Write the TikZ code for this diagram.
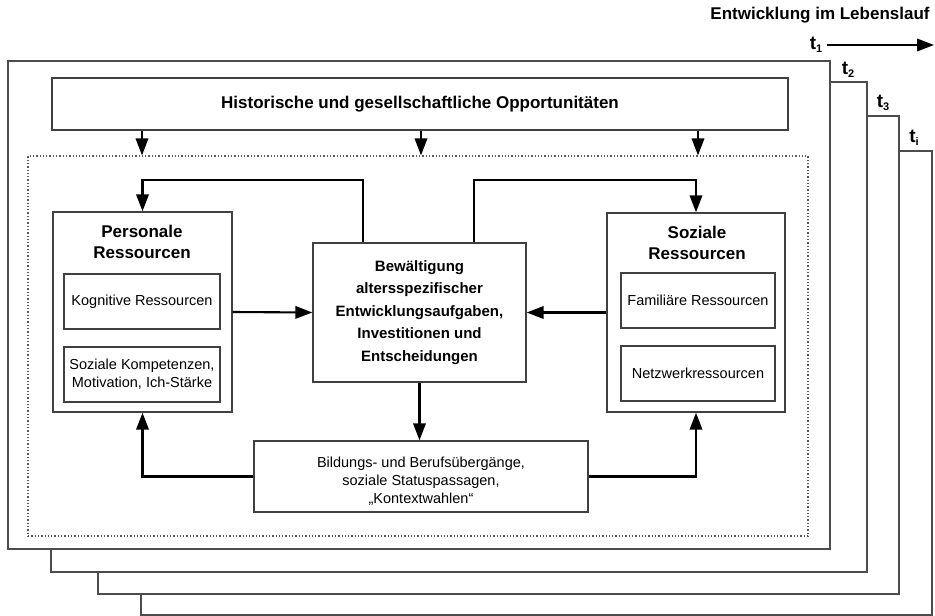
\documentclass[tikz,border=0pt]{standalone}
\usepackage{fontspec}
\setmainfont{Liberation Sans}
\usetikzlibrary{arrows.meta,calc}
\begin{document}
\begin{tikzpicture}[x=1pt,y=-1pt,
  frame/.style={draw=black!70,line width=1.4pt,fill=white},
  box/.style={draw=black!75,line width=1.4pt,fill=white,inner sep=0pt,align=center},
  inbox/.style={draw=black!75,line width=1.3pt,inner sep=0pt,align=center,font=\fontsize{14.5}{18}\selectfont},
  arr/.style={draw=black,line width=2.1pt,-{Triangle[length=17pt,width=12.5pt]}},
  tlab/.style={font=\fontsize{19}{19}\selectfont\bfseries,inner sep=0pt},
  title/.style={font=\fontsize{17}{20.5}\selectfont\bfseries,align=center,inner sep=0pt}
]
\useasboundingbox (0,0) rectangle (935,616);
% stacked frames (back to front)
\node[frame,minimum width=791pt,minimum height=464pt,inner sep=0pt] (f4) at (536.5,383) {};
\node[frame,minimum width=801pt,minimum height=478pt,inner sep=0pt] (f3) at (498.5,355) {};
\node[frame,minimum width=816pt,minimum height=490pt,inner sep=0pt] (f2) at (459,327) {};
\node[frame,minimum width=822pt,minimum height=488pt,inner sep=0pt] (f1) at (419,305) {};
% header
\node[font=\fontsize{17}{17}\selectfont\bfseries,inner sep=0pt] (head) at (820,15) {Entwicklung im Lebenslauf};
\node[tlab] (t1) at (816,45) {t\raisebox{-0.25ex}{\fontsize{11}{11}\selectfont 1}};
\node[tlab] (t2) at (848,70) {t\raisebox{-0.25ex}{\fontsize{11}{11}\selectfont 2}};
\node[tlab] (t3) at (883,103) {t\raisebox{-0.25ex}{\fontsize{11}{11}\selectfont 3}};
\node[tlab] (ti) at (914,138) {t\raisebox{-0.25ex}{\fontsize{11}{11}\selectfont i}};
\coordinate (tend) at (934,45);
\draw[arr,line width=2pt] ([xshift=5pt]t1.east |- 0,45) -- (tend);
% top box
\node[box,minimum width=736pt,minimum height=52pt,font=\fontsize{17}{20}\selectfont\bfseries] (hist) at (420,104) {Historische und gesellschaftliche Opportunitäten};
% dotted area
\node[draw=black!65,line width=1.3pt,dotted,minimum width=780pt,minimum height=380pt,inner sep=0pt] (dot) at (418,346) {};
\coordinate (xa) at (142,0);
\coordinate (xb) at (421,0);
\coordinate (xc) at (698,0);
\draw[arr] (hist.south -| xa) -- (dot.north -| xa);
\draw[arr] (hist.south -| xb) -- (dot.north -| xb);
\draw[arr] (hist.south -| xc) -- (dot.north -| xc);
% personal resources
\node[box,minimum width=179pt,minimum height=200pt] (P) at (142.5,312) {};
\node[title] (Pt) at (142,242) {Personale\\Ressourcen};
\node[inbox,minimum width=156pt,minimum height=55pt] (K) at (142,301.5) {Kognitive Ressourcen};
\node[inbox,minimum width=156pt,minimum height=55pt] (S) at (142,374.5) {Soziale Kompetenzen,\\Motivation, Ich-Stärke};
% social resources
\node[box,minimum width=178pt,minimum height=199pt] (R) at (696,312.5) {};
\node[title] (Rt) at (697,243) {Soziale\\Ressourcen};
\node[inbox,minimum width=154pt,minimum height=55pt] (F) at (698,300.5) {Familiäre Ressourcen};
\node[inbox,minimum width=154pt,minimum height=55pt] (N) at (698,373.5) {Netzwerkressourcen};
% center
\node[box,minimum width=213pt,minimum height=139pt,font=\fontsize{15}{22.5}\selectfont\bfseries] (C) at (419.5,312.5) {Bewältigung\\altersspezifischer\\Entwicklungsaufgaben,\\Investitionen und\\Entscheidungen};
% bottom
\node[box,minimum width=334pt,minimum height=71pt] (B) at (421,476.5) {};
\node[inner sep=0pt,align=center,font=\fontsize{14.5}{18}\selectfont] (Bt) at (421,481) {Bildungs- und Berufsübergänge,\\soziale Statuspassagen,\\„Kontextwahlen“};
% arrows
\coordinate (xl) at (363,0);
\coordinate (xr) at (474,0);
\coordinate (yl) at (0,180);
\draw[arr] (P.east) -- (C.west);
\draw[arr] (R.west) -- (C.east);
\draw[arr] (C.north -| xl) |- (P.north |- yl) -- (P.north);
\draw[arr] (C.north -| xr) |- (R.north |- yl) -- (R.north);
\draw[arr] (C.south) -- (C.south |- B.north);
\draw[arr] (B.west) -| (P.south);
\draw[arr] (B.east) -| (R.south);
\end{tikzpicture}
\end{document}
